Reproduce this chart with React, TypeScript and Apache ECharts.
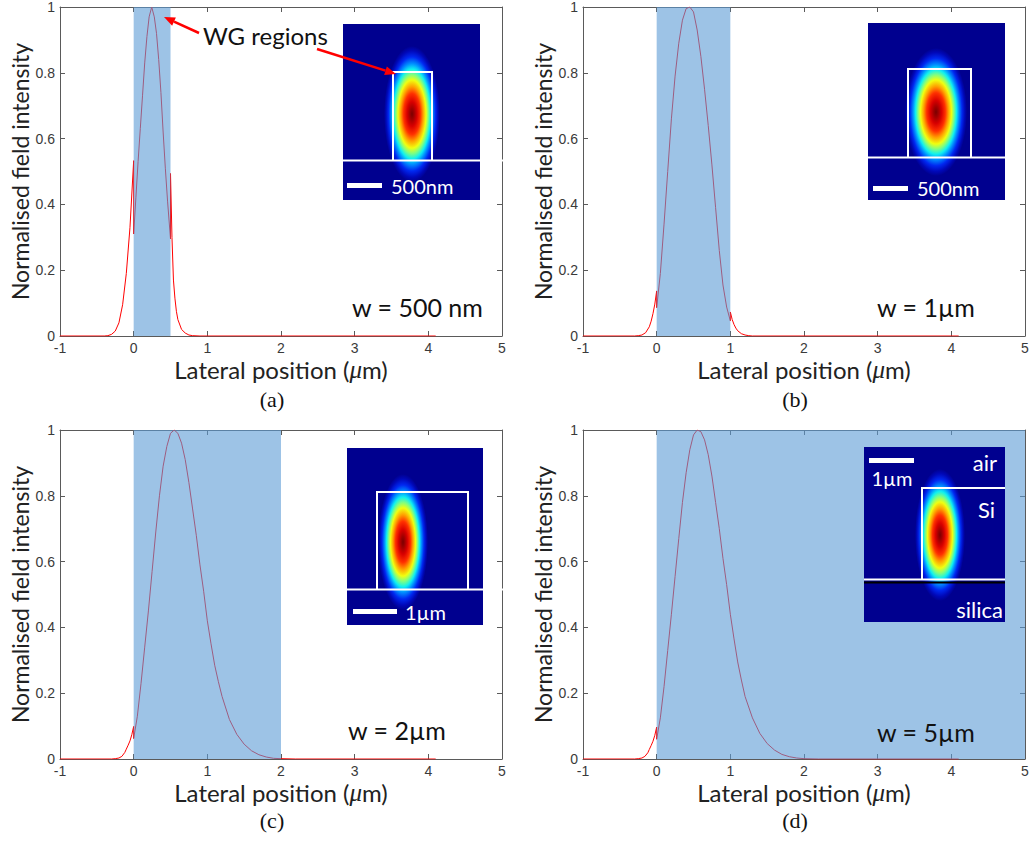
import React, { useEffect, useRef } from 'react';
import * as echarts from 'echarts';

// ---------- DATA ----------
const xMin = -1, xMax = 5, xStep = 1;
const yMin = 0, yMax = 1, yStep = 0.2;

// Normalised field intensity vs lateral position (um)
const profileA: [number, number][] = [
  [-1, 0], [-0.4, 0], [-0.35, 0.001], [-0.3, 0.005], [-0.25, 0.015], [-0.2, 0.04], [-0.15, 0.095],
  [-0.1, 0.19], [-0.05, 0.33], [0, 0.533], [0, 0.31], [0.03, 0.42], [0.06, 0.53], [0.09, 0.63],
  [0.12, 0.73], [0.15, 0.83], [0.18, 0.91], [0.21, 0.97], [0.245, 1.0], [0.28, 0.97], [0.31, 0.92],
  [0.34, 0.84], [0.37, 0.74], [0.4, 0.62], [0.43, 0.51], [0.46, 0.41], [0.5, 0.295], [0.5, 0.494],
  [0.52, 0.3], [0.54, 0.17], [0.56, 0.115], [0.58, 0.075], [0.6, 0.05], [0.65, 0.02], [0.7, 0.009],
  [0.75, 0.003], [0.8, 0.001], [0.9, 0], [4.1, 0],
];
const profileB: [number, number][] = [
  [-1, 0], [-0.3, 0], [-0.25, 0.001], [-0.2, 0.003], [-0.15, 0.01], [-0.1, 0.028], [-0.075, 0.045],
  [-0.05, 0.068], [-0.025, 0.097], [0, 0.137], [0, 0.086], [0.05, 0.19], [0.1, 0.34], [0.15, 0.5],
  [0.2, 0.66], [0.25, 0.79], [0.3, 0.89], [0.35, 0.96], [0.4, 0.995], [0.45, 1.0], [0.5, 0.985],
  [0.55, 0.93], [0.6, 0.85], [0.65, 0.75], [0.7, 0.64], [0.75, 0.52], [0.8, 0.39], [0.85, 0.26],
  [0.9, 0.155], [0.95, 0.088], [1.0, 0.046], [1.0, 0.073], [1.025, 0.05], [1.05, 0.035],
  [1.075, 0.024], [1.1, 0.016], [1.15, 0.007], [1.2, 0.003], [1.25, 0.001], [1.3, 0], [4.1, 0],
];
const profileC: [number, number][] = [
  [-1, 0], [-0.3, 0], [-0.25, 0.001], [-0.2, 0.003], [-0.16, 0.008], [-0.12, 0.02], [-0.1, 0.03],
  [-0.075, 0.042], [-0.05, 0.055], [-0.025, 0.074], [0, 0.099], [0, 0.062], [0.05, 0.13], [0.1, 0.23],
  [0.15, 0.34], [0.2, 0.45], [0.25, 0.57], [0.3, 0.69], [0.35, 0.8], [0.4, 0.89], [0.45, 0.95],
  [0.5, 0.99], [0.55, 1.0], [0.6, 0.99], [0.65, 0.96], [0.7, 0.91], [0.75, 0.84], [0.8, 0.76],
  [0.85, 0.68], [0.9, 0.59], [0.95, 0.51], [1.0, 0.42], [1.05, 0.35], [1.1, 0.285], [1.15, 0.235],
  [1.2, 0.19], [1.3, 0.12], [1.4, 0.075], [1.5, 0.045], [1.6, 0.025], [1.7, 0.013], [1.8, 0.006],
  [1.9, 0.002], [2.0, 0.001], [2.2, 0], [4.1, 0],
];
const profileD: [number, number][] = [
  [-1, 0], [-0.3, 0], [-0.25, 0.001], [-0.2, 0.003], [-0.16, 0.008], [-0.12, 0.019], [-0.1, 0.029],
  [-0.075, 0.041], [-0.05, 0.054], [-0.025, 0.072], [0, 0.097], [0, 0.06], [0.05, 0.125], [0.1, 0.22],
  [0.15, 0.33], [0.2, 0.44], [0.25, 0.555], [0.3, 0.67], [0.35, 0.78], [0.4, 0.87], [0.45, 0.94],
  [0.5, 0.985], [0.55, 1.0], [0.6, 0.995], [0.65, 0.97], [0.7, 0.925], [0.75, 0.86], [0.8, 0.78],
  [0.85, 0.7], [0.9, 0.61], [0.95, 0.53], [1.0, 0.44], [1.05, 0.365], [1.1, 0.295], [1.15, 0.24],
  [1.2, 0.19], [1.3, 0.125], [1.4, 0.078], [1.5, 0.047], [1.6, 0.027], [1.7, 0.014], [1.8, 0.007],
  [1.9, 0.003], [2.0, 0.001], [2.2, 0], [4.1, 0],
];
const profiles = [profileA, profileB, profileC, profileD];

// waveguide (WG) region [start, end] in um
const wgRegions: [number, number][] = [[0, 0.5], [0, 1], [0, 2], [0, 5]];

const widthLabels = ['w = 500 nm', 'w = 1\u00b5m', 'w = 2\u00b5m', 'w = 5\u00b5m'];
const panelLetters = ['(a)', '(b)', '(c)', '(d)'];
const scaleLabels = ['500nm', '500nm', '1\u00b5m', '1\u00b5m'];
const layerLabels = ['air', 'Si', 'silica'];
const annotationText = 'WG regions';
const yTitle = 'Normalised field intensity';
const xTitle = 'Lateral position ({mu|\u03bc}m)';

// ---------- LAYOUT ----------
const GRIDS = [
  { left: 60, top: 6, width: 442, height: 330 },
  { left: 583, top: 6, width: 442, height: 330 },
  { left: 60, top: 430, width: 442, height: 329 },
  { left: 583, top: 430, width: 442, height: 329 },
];

const AXIS_COLOR = '#5a5a5a';
const LABEL_COLOR = '#3a3a3a';
const TITLE_COLOR = '#222';
const BAND_COLOR = 'rgba(91,155,213,0.6)';
const INSET_BG = '#00008f';
const SANS = 'Lato';

const jetStops = [
  { offset: 0, color: '#7a0000' },
  { offset: 0.08, color: '#a00000' },
  { offset: 0.18, color: '#d80000' },
  { offset: 0.3, color: '#ff3000' },
  { offset: 0.4, color: '#ffa000' },
  { offset: 0.5, color: '#f0ff10' },
  { offset: 0.58, color: '#80ff80' },
  { offset: 0.66, color: '#10f0f0' },
  { offset: 0.74, color: '#0090ff' },
  { offset: 0.84, color: '#0028f0' },
  { offset: 0.93, color: '#0008b8' },
  { offset: 1, color: INSET_BG },
];

type InsetSpec = {
  rect: [number, number, number, number];
  mode: [number, number, number, number];
  lines: { x1: number; y1: number; x2: number; y2: number; color?: string; w?: number }[];
  bar: [number, number, number, number];
  barText: { x: number; y: number; align: string };
};

const insets: InsetSpec[] = [
  {
    rect: [343, 24, 137, 176],
    mode: [412, 114, 28, 68],
    lines: [
      { x1: 343, y1: 160.5, x2: 506, y2: 160.5 },
      { x1: 393, y1: 160.5, x2: 393, y2: 72 },
      { x1: 392, y1: 72, x2: 433, y2: 72 },
      { x1: 432, y1: 72, x2: 432, y2: 160.5 },
    ],
    bar: [347, 183, 35, 5],
    barText: { x: 391, y: 186, align: 'left' },
  },
  {
    rect: [868, 23, 137, 177],
    mode: [936, 112, 31, 64],
    lines: [
      { x1: 868, y1: 157.5, x2: 1005, y2: 157.5 },
      { x1: 908, y1: 157.5, x2: 908, y2: 69 },
      { x1: 907, y1: 69, x2: 972, y2: 69 },
      { x1: 971, y1: 69, x2: 971, y2: 157.5 },
    ],
    bar: [873, 186, 35, 5],
    barText: { x: 917, y: 188, align: 'left' },
  },
  {
    rect: [347, 448, 136, 177],
    mode: [403, 542, 25, 68],
    lines: [
      { x1: 347, y1: 589.5, x2: 506, y2: 589.5 },
      { x1: 377, y1: 589.5, x2: 377, y2: 492 },
      { x1: 376, y1: 492, x2: 469, y2: 492 },
      { x1: 468, y1: 492, x2: 468, y2: 589.5 },
    ],
    bar: [353, 609, 44, 5],
    barText: { x: 405, y: 612, align: 'left' },
  },
  {
    rect: [864, 447, 141, 175],
    mode: [940, 535, 25, 66],
    lines: [
      { x1: 864, y1: 582.5, x2: 1005, y2: 582.5, color: '#000', w: 2 },
      { x1: 864, y1: 579.5, x2: 1005, y2: 579.5 },
      { x1: 922, y1: 579.5, x2: 922, y2: 488 },
      { x1: 921, y1: 488, x2: 1005, y2: 488 },
    ],
    bar: [869, 458, 45, 5],
    barText: { x: 892, y: 478, align: 'center' },
  },
];

function insetElements(s: InsetSpec, label: string): any[] {
  const els: any[] = [];
  const [rx, ry, rw, rh] = s.rect;
  els.push({ type: 'rect', z: 100, shape: { x: rx, y: ry, width: rw, height: rh }, style: { fill: INSET_BG } });
  const [cx, cy, ex, ey] = s.mode;
  els.push({
    type: 'ellipse', z: 101,
    shape: { cx, cy, rx: ex, ry: ey },
    style: { fill: new echarts.graphic.RadialGradient(0.5, 0.5, 0.5, jetStops), stroke: null },
  });
  s.lines.forEach((l) => {
    els.push({
      type: 'line', z: 102,
      shape: { x1: l.x1, y1: l.y1, x2: l.x2, y2: l.y2 },
      style: { stroke: l.color || '#fff', lineWidth: l.w || 2 },
    });
  });
  const [bx, by, bw, bh] = s.bar;
  els.push({ type: 'rect', z: 102, shape: { x: bx, y: by, width: bw, height: bh }, style: { fill: '#fff' } });
  els.push({
    type: 'text', z: 102, x: s.barText.x, y: s.barText.y,
    style: { text: label, fill: '#fff', fontSize: 20, fontFamily: SANS, align: s.barText.align, verticalAlign: 'middle' },
  });
  return els;
}

function arrow(x1: number, y1: number, x2: number, y2: number): any[] {
  const dx = x2 - x1, dy = y2 - y1;
  const len = Math.sqrt(dx * dx + dy * dy);
  const ux = dx / len, uy = dy / len;
  const hl = 11, hw = 4.5;
  const bx = x2 - ux * hl, by = y2 - uy * hl;
  return [
    { type: 'line', z: 110, shape: { x1, y1, x2: bx, y2: by }, style: { stroke: '#f00', lineWidth: 2.5 } },
    {
      type: 'polygon', z: 110,
      shape: { points: [[x2, y2], [bx - uy * hw, by + ux * hw], [bx + uy * hw, by - ux * hw]] },
      style: { fill: '#f00' },
    },
  ];
}

function buildOption() {
  const xAxis: any[] = [];
  const yAxis: any[] = [];
  const series: any[] = [];
  GRIDS.forEach((g, i) => {
    const common = {
      type: 'value', gridIndex: i, min: xMin, max: xMax, interval: xStep,
      axisLine: { show: true, onZero: false, lineStyle: { color: AXIS_COLOR, width: 1 } },
      axisTick: { show: true, inside: true, length: 5, lineStyle: { color: AXIS_COLOR } },
      splitLine: { show: false },
    };
    xAxis.push({
      ...common, position: 'bottom',
      axisLabel: { color: LABEL_COLOR, fontSize: 14, fontFamily: 'Liberation Sans', margin: 5 },
      name: xTitle, nameLocation: 'middle', nameGap: 21,
      nameTextStyle: {
        color: TITLE_COLOR, fontSize: 24, fontFamily: SANS,
        rich: { mu: { color: TITLE_COLOR, fontSize: 25, fontFamily: 'Liberation Serif', fontStyle: 'italic' } },
      },
    });
    xAxis.push({ ...common, position: 'top', axisLabel: { show: false } });
    const ycommon = {
      type: 'value', gridIndex: i, min: yMin, max: yMax, interval: yStep,
      axisLine: { show: true, onZero: false, lineStyle: { color: AXIS_COLOR, width: 1 } },
      axisTick: { show: true, inside: true, length: 5, lineStyle: { color: AXIS_COLOR } },
      splitLine: { show: false },
    };
    yAxis.push({
      ...ycommon, position: 'left',
      axisLabel: { color: LABEL_COLOR, fontSize: 14, fontFamily: 'Liberation Sans', margin: 5 },
      name: yTitle, nameLocation: 'middle', nameGap: 27,
      nameTextStyle: { color: TITLE_COLOR, fontSize: 23, fontFamily: SANS },
    });
    yAxis.push({ ...ycommon, position: 'right', axisLabel: { show: false } });

    series.push({
      type: 'line', xAxisIndex: i * 2, yAxisIndex: i * 2, z: 2,
      data: profiles[i], showSymbol: false, symbol: 'none',
      lineStyle: { color: '#ff0000', width: 1 },
    });
    series.push({
      type: 'custom', xAxisIndex: i * 2, yAxisIndex: i * 2, z: 3,
      data: [wgRegions[i]],
      renderItem: (params: any, api: any) => {
        const p0 = api.coord([api.value(0), yMax]);
        const p1 = api.coord([api.value(1), yMin]);
        return {
          type: 'rect',
          shape: { x: p0[0], y: p0[1], width: p1[0] - p0[0], height: p1[1] - p0[1] },
          style: { fill: BAND_COLOR },
        };
      },
    });
  });

  const graphics: any[] = [];
  insets.forEach((s, i) => graphics.push(...insetElements(s, scaleLabels[i])));
  // layer labels in (d)
  graphics.push({ type: 'text', z: 103, x: 997, y: 462, style: { text: layerLabels[0], fill: '#fff', fontSize: 22, fontFamily: SANS, align: 'right', verticalAlign: 'middle' } });
  graphics.push({ type: 'text', z: 103, x: 995, y: 509, style: { text: layerLabels[1], fill: '#fff', fontSize: 22, fontFamily: SANS, align: 'right', verticalAlign: 'middle' } });
  graphics.push({ type: 'text', z: 103, x: 1003, y: 609, style: { text: layerLabels[2], fill: '#fff', fontSize: 22, fontFamily: SANS, align: 'right', verticalAlign: 'middle' } });

  // width labels
  const wPos = [[352, 307], [877, 307], [348, 730], [877, 732]];
  widthLabels.forEach((t, i) => {
    graphics.push({ type: 'text', z: 104, x: wPos[i][0], y: wPos[i][1], style: { text: t, fill: '#111', fontSize: 25, fontFamily: SANS, align: 'left', verticalAlign: 'middle' } });
  });
  // panel letters
  const lPos = [[272, 399], [795, 399], [272, 820], [795, 820]];
  panelLetters.forEach((t, i) => {
    graphics.push({ type: 'text', z: 104, x: lPos[i][0], y: lPos[i][1], style: { text: t, fill: '#111', fontSize: 22, fontFamily: 'Liberation Serif', align: 'center', verticalAlign: 'middle' } });
  });
  // WG regions annotation
  graphics.push({ type: 'text', z: 110, x: 203, y: 35, style: { text: annotationText, fill: '#111', fontSize: 24, fontFamily: SANS, align: 'left', verticalAlign: 'middle' } });
  graphics.push(...arrow(199, 33, 164, 17));
  graphics.push(...arrow(317, 49, 396, 74));

  return {
    animation: false,
    backgroundColor: '#fff',
    grid: GRIDS.map((g) => ({ ...g, containLabel: false })),
    xAxis, yAxis, series,
    graphic: { elements: graphics },
  };
}

export default function App() {
  const ref = useRef<HTMLDivElement>(null);
  useEffect(() => {
    document.body.style.margin = '0';
    const chart = echarts.init(ref.current!, null, { renderer: 'svg' });
    chart.setOption(buildOption() as any);
    return () => chart.dispose();
  }, []);
  return <div ref={ref} style={{ width: 1035, height: 841 }} />;
}
